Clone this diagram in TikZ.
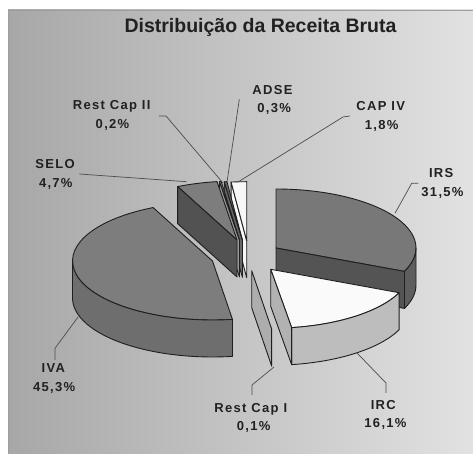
\documentclass[tikz,border=0pt]{standalone}
\usepackage{fontspec}
\setmainfont{Liberation Sans}
\newfontfamily\lblfont{Liberation Sans}[LetterSpace=10]
\usetikzlibrary{calc}
\definecolor{bgL}{gray}{0.655}
\definecolor{bgR}{gray}{0.885}
\definecolor{framec}{gray}{0.62}
\definecolor{edgec}{gray}{0.12}
\definecolor{leadc}{gray}{0.30}
\definecolor{txtc}{gray}{0.13}
\definecolor{irsTop}{gray}{0.47}
\definecolor{irsCut}{gray}{0.33}
\definecolor{irsSide}{gray}{0.37}
\definecolor{ivaTop}{gray}{0.49}
\definecolor{ivaSide}{gray}{0.43}
\definecolor{ircTop}{gray}{0.98}
\definecolor{ircSide}{gray}{0.74}
\definecolor{ircCut}{gray}{0.70}
\definecolor{rciFill}{gray}{0.68}
\definecolor{seloTop}{gray}{0.49}
\definecolor{seloCut}{gray}{0.32}
\definecolor{rciiFill}{gray}{0.60}
\definecolor{adseFill}{gray}{0.40}
\definecolor{capFill}{gray}{0.97}
\newcommand{\pietop}[4]{%
  \filldraw[slice, fill=#4] (#1) -- ($(#1)+(#2:140pt and 59pt)$)
    arc[start angle=#2, end angle=#3, x radius=140pt, y radius=59pt] -- cycle;}
\newcommand{\pieside}[4]{%
  \filldraw[slice, fill=#4] ($(#1)+(#2:140pt and 59pt)$)
    arc[start angle=#2, end angle=#3, x radius=140pt, y radius=59pt]
    -- ++(0,-37pt)
    arc[start angle=#3, end angle=#2, x radius=140pt, y radius=59pt] -- cycle;}
\newcommand{\piecut}[3]{%
  \filldraw[slice, fill=#3] (#1) -- ($(#1)+(#2:140pt and 59pt)$) -- ++(0,-37pt)
    -- ($(#1)+(0,-37pt)$) -- cycle;}
\begin{document}
\begin{tikzpicture}[x=1pt,y=1pt,
  slice/.style={draw=edgec, line width=0.9pt, line join=round},
  leader/.style={draw=leadc, line width=0.7pt},
  lbl/.style={inner sep=0pt, anchor=base, text=txtc,
    font=\lblfont\bfseries\fontsize{13}{15}\selectfont},
  titlestyle/.style={inner sep=0pt, anchor=base, text=txtc,
    font=\bfseries\fontsize{19.5}{22}\selectfont}]
\useasboundingbox (0,0) rectangle (473,454);
\fill[white] (0,0) rectangle (473,454);
\shade[left color=bgL, right color=bgR] (8,0) rectangle (473,444);
\draw[framec, line width=0.8pt] (8,0) -- (8,444) -- (473,444);

% apexes of the exploded slices
\coordinate (A1) at (276,206);    % IRS
\coordinate (A2) at (270.7,184.7);% IRC
\coordinate (A3) at (251.7,183.3);% Rest Cap I
\coordinate (A4) at (212.5,193);  % IVA
\coordinate (A5) at (237,214);    % SELO
\coordinate (A6) at (239.5,214);  % Rest Cap II
\coordinate (A7) at (242.5,213.7);% ADSE
\coordinate (A8) at (246.7,213.3);% CAP IV

% small back slices
\piecut{A8}{96.4}{capFill}
\pietop{A8}{96.4}{90}{capFill}
\piecut{A7}{97.5}{adseFill}
\pietop{A7}{97.5}{96.4}{adseFill}
\piecut{A6}{98.2}{rciiFill}
\pietop{A6}{98.2}{97.5}{rciiFill}
% SELO
\pietop{A5}{115.1}{98.2}{seloTop}
\piecut{A5}{115.1}{seloCut}
% IVA
\pietop{A4}{-81.8}{-244.9}{ivaTop}
\pieside{A4}{-81.8}{-180}{ivaSide}
% IRS
\pietop{A1}{90}{-23.4}{irsTop}
\piecut{A1}{-23.4}{irsCut}
\pieside{A1}{0}{-23.4}{irsSide}
% Rest Cap I
\piecut{A3}{-81.8}{rciFill}
% IRC
\pietop{A2}{-23.4}{-81.4}{ircTop}
\pieside{A2}{-23.4}{-81.4}{ircSide}
\piecut{A2}{-81.4}{ircCut}

% title
\node[titlestyle] (title) at (260.5,421.4) {Distribuição da Receita Bruta};

% labels
\node[lbl] (adseN) at (272.5,359.65) {ADSE};
\node[lbl] (adseV) at (274.2,341.05) {0,3\%};
\node[lbl] (rc2N) at (111.7,344.65) {Rest Cap II};
\node[lbl] (rc2V) at (112.5,325.55) {0,2\%};
\node[lbl] (capN) at (380.7,343.05) {CAP IV};
\node[lbl] (capV) at (381.7,324.05) {1,8\%};
\node[lbl] (seloN) at (55,285.55) {SELO};
\node[lbl] (seloV) at (55.8,266.35) {4,7\%};
\node[lbl] (irsN) at (441.2,276.35) {IRS};
\node[lbl] (irsV) at (442.5,257.35) {31,5\%};
\node[lbl] (ivaN) at (53.3,81.05) {IVA};
\node[lbl] (ivaV) at (54.2,62.85) {45,3\%};
\node[lbl] (rc1N) at (250.8,41.85) {Rest Cap I};
\node[lbl] (rc1V) at (253.7,23.65) {0,1\%};
\node[lbl] (ircN) at (383.3,44.65) {IRC};
\node[lbl] (ircV) at (385.5,26.05) {16,1\%};

% leader lines
\coordinate (rc2a) at (159,338); \coordinate (rc2b) at (166,338); \coordinate (rc2c) at (223,271);
\coordinate (adsea) at (239.3,354.7); \coordinate (adseb) at (227,272);
\coordinate (capa) at (350,338); \coordinate (capb) at (343,337); \coordinate (capc) at (238,272);
\coordinate (seloa) at (79.3,280); \coordinate (selob) at (186.7,272.3);
\coordinate (irsa) at (418.3,270.7); \coordinate (irsb) at (411.7,270.7); \coordinate (irsc) at (395,240.7);
\coordinate (ivaa) at (78.3,137.3); \coordinate (ivab) at (55,105.7); \coordinate (ivac) at (55,94);
\coordinate (rc1a) at (274,87); \coordinate (rc1b) at (252,69); \coordinate (rc1c) at (252,59);
\coordinate (irca) at (357,101); \coordinate (ircb) at (386,71); \coordinate (ircc) at (386,61);
\draw[leader] (rc2a) -- (rc2b) -- (rc2c);
\draw[leader] (adsea) -- (adseb);
\draw[leader] (capa) -- (capb) -- (capc);
\draw[leader] (seloa) -- (selob);
\draw[leader] (irsa) -- (irsb) -- (irsc);
\draw[leader] (ivaa) -- (ivab) -- (ivac);
\draw[leader] (rc1a) -- (rc1b) -- (rc1c);
\draw[leader] (irca) -- (ircb) -- (ircc);
\end{tikzpicture}
\end{document}
